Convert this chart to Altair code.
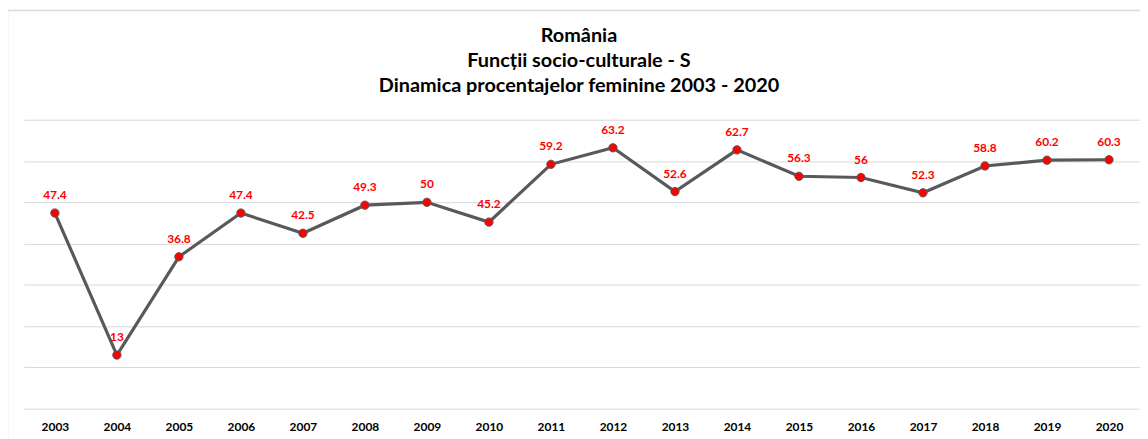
import altair as alt
import pandas as pd

years = [str(y) for y in range(2003, 2021)]
values = [47.4, 13, 36.8, 47.4, 42.5, 49.3, 50, 45.2, 59.2, 63.2, 52.6, 62.7,
          56.3, 56, 52.3, 58.8, 60.2, 60.3]
labels = ["47.4", "13", "36.8", "47.4", "42.5", "49.3", "50", "45.2", "59.2", "63.2",
          "52.6", "62.7", "56.3", "56", "52.3", "58.8", "60.2", "60.3"]
title_lines = ["România", "Funcții socio-culturale - S",
               "Dinamica procentajelor feminine 2003 - 2020"]

df = pd.DataFrame({"year": years, "value": values, "label": labels})

W, H = 1124, 291
FONT = "Lato"

x = alt.X("year:O", sort=years,
          scale=alt.Scale(type="point", padding=0.5),
          axis=alt.Axis(title=None, labelAngle=0, labelFont=FONT, labelFontSize=12,
                        labelFontWeight="bold", labelColor="#000000", labelPadding=13,
                        domain=False, ticks=False, grid=False))
y = alt.Y("value:Q", scale=alt.Scale(domain=[0, 70]),
          axis=alt.Axis(title=None, labels=False, ticks=False, domain=False,
                        values=[0, 10, 20, 30, 40, 50, 60, 70],
                        grid=True, gridColor="#d9d9d9", gridWidth=1))

base = alt.Chart(df)
line = base.mark_line(color="#595959", strokeWidth=3.2).encode(x=x, y=y)
pts = base.mark_point(filled=True, fill="#ff0000", stroke="#595959", strokeWidth=1,
                      opacity=1, size=70).encode(x=x, y=y)
txt = base.mark_text(color="#ff0000", font=FONT, fontSize=12, fontWeight="bold",
                     dy=-18, baseline="middle").encode(x=x, y=y, text="label:N")

single = alt.Chart(alt.Data(values=[{}]))
border = single.mark_rect(fill=None, stroke="#d9d9d9", strokeWidth=1.5).encode(
    x=alt.value(-16.5), x2=alt.value(W + 40), y=alt.value(-110), y2=alt.value(H + 60))
title = single.mark_text(text=title_lines, font=FONT, fontSize=20, fontWeight="bold",
                         color="#000000", align="center", baseline="top",
                         lineHeight=25).encode(x=alt.value(W / 2 - 3), y=alt.value(-94))

chart = alt.layer(border, title, line, pts, txt).properties(
    width=W, height=H,
    autosize=alt.AutoSizeParams(type="none"),
    padding={"left": 16, "top": 111, "right": 0, "bottom": 30},
).configure_view(stroke=None)

chart.save("out.html", embed_options={"renderer": "svg", "actions": False})
